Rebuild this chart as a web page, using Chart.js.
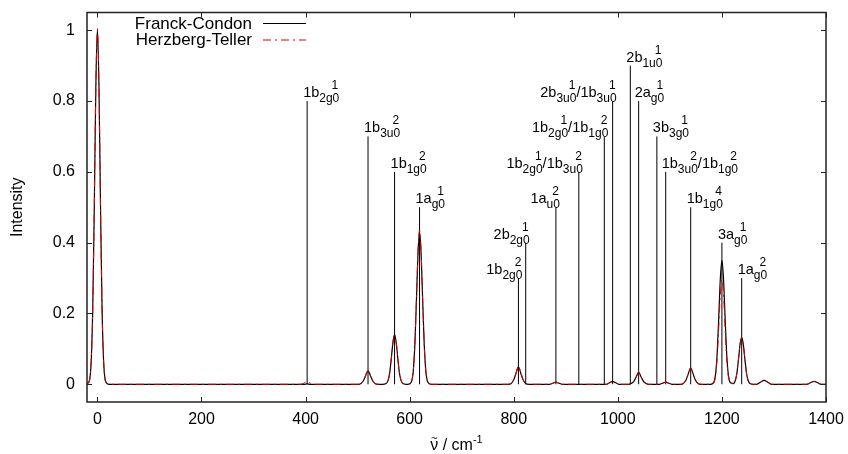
<!DOCTYPE html>
<html>
<head>
<meta charset="utf-8">
<script src="https://cdn.jsdelivr.net/npm/chart.js@4.4.1/dist/chart.umd.min.js"></script>
<style>
  html, body { margin: 0; padding: 0; background: #fff; }
  #wrap { width: 848px; height: 454px; }
</style>
</head>
<body>
<div id="wrap"><canvas id="spectrum" width="848" height="454"></canvas></div>
<script>
// スペクトル（横軸 cm-1）
const specX = [
  -20, -16, -12, -9, -6, -3, 0, 3, 6, 9, 12, 16, 22,
  390, 397, 403, 409, 416,
  498, 504, 511, 515, 520, 525, 529, 536, 542,
  549, 555, 559, 562, 565, 568, 571, 574, 577, 580, 583, 587, 593,
  597, 603, 607, 610, 613, 616, 619, 622, 625, 628, 631, 635, 641,
  787, 793, 800, 804, 809, 814, 818, 825, 831,
  869, 876, 881, 886, 893,
  978, 985, 990, 995, 1002,
  1021, 1028, 1031, 1035, 1040, 1045, 1049, 1052, 1059,
  1080, 1087, 1092, 1097, 1104,
  1118, 1124, 1131, 1135, 1140, 1145, 1149, 1156, 1162,
  1178, 1184, 1188, 1191, 1194, 1197, 1200, 1203, 1206, 1209, 1212, 1216, 1219,
  1222, 1226, 1229, 1232, 1235, 1238, 1241, 1244, 1247, 1250, 1254, 1260,
  1267, 1274, 1281, 1288, 1295,
  1363, 1370, 1377, 1384, 1391, 1400
];
const fcY = [
  0.002, 0.007, 0.063, 0.21, 0.5, 0.84, 1.005, 0.84, 0.5, 0.21, 0.063, 0.007, 0,
  0, 0, 0.001, 0, 0,
  0, 0.0005, 0.01, 0.023, 0.038, 0.023, 0.01, 0.0005, 0,
  0, 0.002, 0.013, 0.036, 0.077, 0.12, 0.14, 0.12, 0.077, 0.036, 0.013, 0.002, 0,
  0, 0.006, 0.039, 0.112, 0.237, 0.37, 0.43, 0.37, 0.237, 0.112, 0.039, 0.006, 0,
  0, 0.0006, 0.013, 0.029, 0.049, 0.029, 0.013, 0.0006, 0,
  0, 0.0035, 0.006, 0.0035, 0,
  0, 0.005, 0.008, 0.005, 0,
  0, 0.0045, 0.009, 0.02, 0.034, 0.02, 0.009, 0.0045, 0,
  0, 0.0035, 0.006, 0.0035, 0,
  0, 0.0006, 0.012, 0.028, 0.046, 0.028, 0.012, 0.0006, 0,
  0, 0.0046, 0.0315, 0.091, 0.193, 0.30, 0.35, 0.30, 0.193, 0.091, 0.0315, 0.005, 0.003,
  0.002, 0.012, 0.034, 0.073, 0.114, 0.132, 0.114, 0.073, 0.034, 0.012, 0.002, 0,
  0, 0.006, 0.011, 0.006, 0,
  0, 0.0045, 0.008, 0.0045, 0, 0
];
const htY = [
  0.002, 0.007, 0.063, 0.21, 0.5, 0.84, 1.0, 0.84, 0.5, 0.21, 0.063, 0.007, 0,
  0, 0.003, 0.008, 0.003, 0,
  0, 0.0005, 0.01, 0.023, 0.038, 0.023, 0.01, 0.0005, 0,
  0, 0.002, 0.013, 0.036, 0.077, 0.12, 0.14, 0.12, 0.077, 0.036, 0.013, 0.002, 0,
  0, 0.006, 0.039, 0.113, 0.239, 0.374, 0.435, 0.374, 0.239, 0.113, 0.039, 0.006, 0,
  0, 0.0006, 0.013, 0.03, 0.05, 0.03, 0.013, 0.0006, 0,
  0, 0.0035, 0.006, 0.0035, 0,
  0, 0.005, 0.008, 0.005, 0,
  0, 0.0045, 0.009, 0.02, 0.034, 0.02, 0.009, 0.0045, 0,
  0, 0.0035, 0.006, 0.0035, 0,
  0, 0.0006, 0.012, 0.028, 0.046, 0.028, 0.012, 0.0006, 0,
  0, 0.0039, 0.0266, 0.077, 0.162, 0.254, 0.295, 0.254, 0.162, 0.077, 0.0266, 0.004, 0.003,
  0.002, 0.012, 0.034, 0.073, 0.114, 0.132, 0.114, 0.073, 0.034, 0.012, 0.002, 0,
  0, 0.006, 0.011, 0.006, 0,
  0, 0.0045, 0.008, 0.0045, 0, 0
];

// 帰属（スティック）
const stickX = [403, 520, 571, 619, 809, 823, 881, 925, 974, 990, 1024, 1040, 1075, 1092, 1140, 1200, 1238];
const stickH = [0.8, 0.7, 0.6, 0.5, 0.3, 0.4, 0.5, 0.6, 0.7, 0.8, 0.9, 0.8, 0.7, 0.6, 0.5, 0.4, 0.3];
const stickLabel = [
  "1b_{2g0}^{1}", "1b_{3u0}^{2}", "1b_{1g0}^{2}", "1a_{g0}^{1}",
  "1b_{2g0}^{2}", "2b_{2g0}^{1}", "1a_{u0}^{2}", "1b_{2g0}^{1}/1b_{3u0}^{2}",
  "1b_{2g0}^{1}/1b_{1g0}^{2}", "2b_{3u0}^{1}/1b_{3u0}^{1}", "2b_{1u0}^{1}", "2a_{g0}^{1}",
  "3b_{3g0}^{1}", "1b_{3u0}^{2}/1b_{1g0}^{2}", "1b_{1g0}^{4}", "3a_{g0}^{1}", "1a_{g0}^{2}"
];
const stickSide = ["l", "l", "l", "l", "r", "r", "r", "r", "r", "r", "l", "l", "l", "l", "l", "l", "l"];

// 軸
const xTicks = [0, 200, 400, 600, 800, 1000, 1200, 1400];
const yTicks = [0, 0.2, 0.4, 0.6, 0.8, 1];
const seriesNames = ["Franck-Condon", "Herzberg-Teller"];

const FAMILY = "'Liberation Sans', Arial, sans-serif";
const MAIN_FONT = "14.5px " + FAMILY;
const SMALL_FONT = "12px " + FAMILY;
Chart.defaults.font.family = FAMILY;
Chart.defaults.color = "#000";

const stickData = [];
stickX.forEach((x, i) => {
  stickData.push({ x, y: 0 }, { x, y: stickH[i] }, { x, y: null });
});

function drawStickLabel(c, text, px, yTop, side) {
  const parts = text.split("/").map(p => {
    const m = p.match(/^(.*)_\{(.*)\}\^\{(.*)\}$/);
    return { main: m[1], sub: m[2], sup: m[3] };
  });
  c.font = MAIN_FONT;
  const slashW = c.measureText("/").width;
  let total = 0;
  parts.forEach((p, i) => {
    c.font = MAIN_FONT;
    p.wm = c.measureText(p.main).width;
    c.font = SMALL_FONT;
    p.ws = c.measureText(p.sub).width;
    p.wu = c.measureText(p.sup).width;
    total += p.wm + Math.max(p.ws, p.wu) + (i > 0 ? slashW : 0);
  });
  let x = side === "r" ? px + 4 - total : px - 4;
  const base = yTop - 4;
  parts.forEach((p, i) => {
    c.font = MAIN_FONT;
    if (i > 0) { c.fillText("/", x, base); x += slashW; }
    c.fillText(p.main, x, base);
    x += p.wm;
    c.font = SMALL_FONT;
    c.fillText(p.sub, x, base + 5);
    const w = Math.max(p.ws, p.wu);
    c.fillText(p.sup, x + w - p.wu - 1, base - 8);
    x += w;
  });
}

// 横軸タイトル（ν̃ / cm^-1）
function drawXTitle(c, cx, base) {
  const big = "16px " + FAMILY, small = "11px " + FAMILY;
  c.font = big;
  const wNu = c.measureText("ν").width;
  const wMid = c.measureText(" / cm").width;
  c.font = small;
  const wSup = c.measureText("-1").width;
  const wTil = c.measureText("~").width;
  let x = cx - (wNu + wMid + wSup) / 2;
  c.textAlign = "left";
  c.font = big;
  c.fillText("ν", x, base);
  c.font = small;
  c.fillText("~", x + (wNu - wTil) / 2, base - 8);
  x += wNu;
  c.font = big;
  c.fillText(" / cm", x, base);
  x += wMid;
  c.font = small;
  c.fillText("-1", x, base - 7);
}

// 枠・内向き目盛り・ラベル・凡例
const decorPlugin = {
  id: "decor",
  afterDatasetsDraw(chart) {
    const c = chart.ctx;
    const a = chart.chartArea;
    const xs = chart.scales.x, ys = chart.scales.y;
    c.save();
    c.fillStyle = "#000";
    c.textAlign = "left";
    c.textBaseline = "alphabetic";
    stickX.forEach((v, i) => {
      drawStickLabel(c, stickLabel[i], xs.getPixelForValue(v), ys.getPixelForValue(stickH[i]), stickSide[i]);
    });

    drawXTitle(c, (a.left + a.right) / 2, 450);

    // 凡例
    const ds = chart.data.datasets;
    const rows = [{ d: ds[1], base: 29, ly: 23.5 }, { d: ds[0], base: 45, ly: 40 }];
    c.font = "17px " + FAMILY;
    c.textAlign = "right";
    rows.forEach(r => {
      c.fillText(r.d.label, 252, r.base);
      c.beginPath();
      c.strokeStyle = r.d.borderColor;
      c.lineWidth = r.d.borderWidth;
      c.setLineDash(r.d.borderDash || []);
      c.moveTo(263, r.ly);
      c.lineTo(306, r.ly);
      c.stroke();
    });
    c.setLineDash([]);

    // 枠
    c.strokeStyle = "#222";
    c.lineWidth = 1.5;
    c.strokeRect(a.left, a.top, a.right - a.left, a.bottom - a.top);
    c.lineWidth = 1;
    c.beginPath();
    xTicks.forEach(v => {
      const px = Math.round(xs.getPixelForValue(v)) + 0.5;
      c.moveTo(px, a.bottom); c.lineTo(px, a.bottom - 5);
      c.moveTo(px, a.top); c.lineTo(px, a.top + 5);
    });
    yTicks.forEach(v => {
      const py = Math.round(ys.getPixelForValue(v)) + 0.5;
      c.moveTo(a.left, py); c.lineTo(a.left + 5, py);
      c.moveTo(a.right, py); c.lineTo(a.right - 5, py);
    });
    c.stroke();
    c.restore();
  }
};

const ctx = document.getElementById("spectrum").getContext("2d");
const chart = new Chart(ctx, {
  type: "line",
  data: {
    datasets: [
      {
        label: seriesNames[1],
        data: specX.map((x, i) => ({ x, y: htY[i] })),
        borderColor: "#e00000",
        borderWidth: 1,
        borderDash: [8, 4, 2, 4],
        pointRadius: 0,
        cubicInterpolationMode: "monotone",
        order: 1
      },
      {
        label: seriesNames[0],
        data: specX.map((x, i) => ({ x, y: fcY[i] })),
        borderColor: "#000",
        borderWidth: 1.2,
        pointRadius: 0,
        cubicInterpolationMode: "monotone",
        order: 2
      },
      {
        label: "assign",
        data: stickData,
        borderColor: "#000",
        borderWidth: 1,
        pointRadius: 0,
        spanGaps: false,
        order: 3
      }
    ]
  },
  options: {
    responsive: false,
    animation: false,
    events: [],
    layout: { padding: { top: 12.5, right: 22, left: 0, bottom: 0 } },
    plugins: { legend: { display: false }, tooltip: { enabled: false } },
    scales: {
      x: {
        type: "linear",
        min: -20,
        max: 1400,
        afterBuildTicks: s => { s.ticks = xTicks.map(v => ({ value: v })); },
        afterFit: s => { s.height = 52; s.paddingLeft = 0; s.paddingRight = 0; },
        grid: { display: false, drawTicks: false },
        border: { display: false },
        ticks: { font: { size: 16 }, color: "#000", padding: 8, maxRotation: 0, autoSkip: false, callback: v => String(v) },
        title: { display: false }
      },
      y: {
        type: "linear",
        min: -0.05,
        max: 1.05,
        afterBuildTicks: s => { s.ticks = yTicks.map(v => ({ value: v })); },
        afterFit: s => { s.width = 87; s.paddingTop = 0; s.paddingBottom = 0; },
        grid: { display: false, drawTicks: false },
        border: { display: false },
        ticks: { font: { size: 16 }, color: "#000", padding: 12, callback: v => String(v) },
        title: { display: true, text: "Intensity", font: { size: 16 }, color: "#000", padding: { top: 8, bottom: 0 } }
      }
    }
  },
  plugins: [decorPlugin]
});
</script>
</body>
</html>
